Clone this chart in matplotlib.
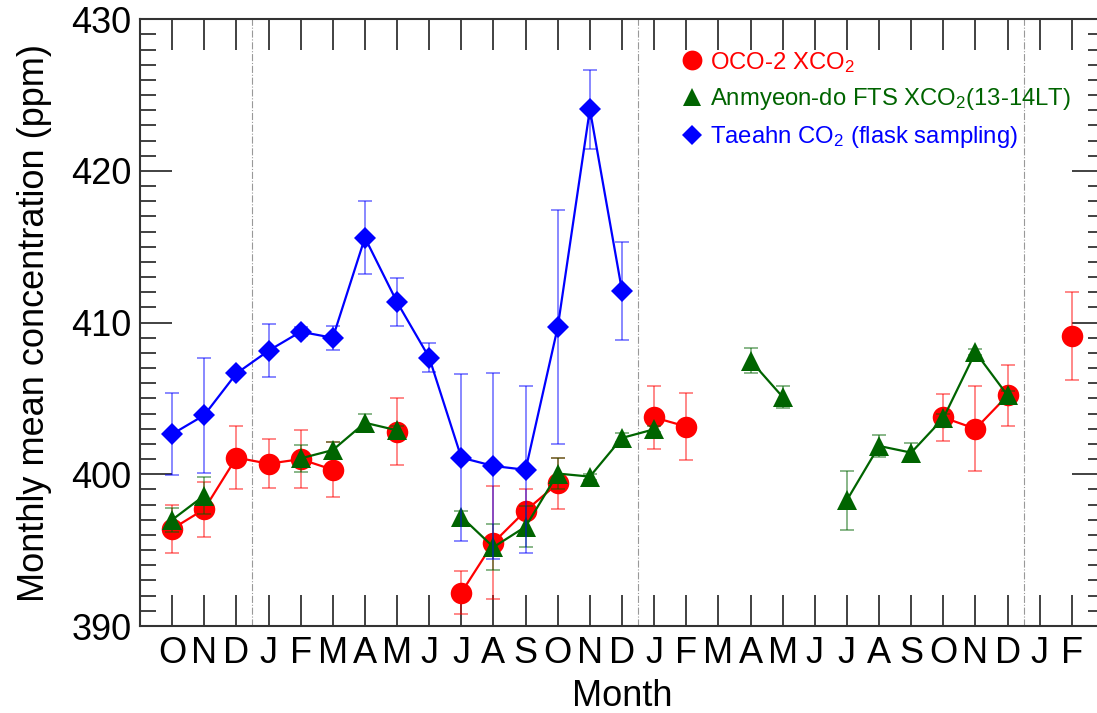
import numpy as np
import matplotlib
matplotlib.use("Agg")
import matplotlib.pyplot as plt
from matplotlib.lines import Line2D

nan = np.nan

months = ['O', 'N', 'D', 'J', 'F', 'M', 'A', 'M', 'J', 'J', 'A', 'S', 'O', 'N', 'D',
          'J', 'F', 'M', 'A', 'M', 'J', 'J', 'A', 'S', 'O', 'N', 'D', 'J', 'F']

oco2 = [396.4, 397.7, 401.1, 400.7, 401.0, 400.3, nan, 402.8, nan, 392.2, 395.5, 397.6,
        399.4, nan, nan, 403.75, 403.15, nan, nan, nan, nan, nan, nan, nan,
        403.75, 403.0, 405.2, nan, 409.1]
oco2_err = [1.6, 1.8, 2.1, 1.6, 1.9, 1.8, nan, 2.2, nan, 1.4, 3.7, 1.4,
            1.7, nan, nan, 2.1, 2.2, nan, nan, nan, nan, nan, nan, nan,
            1.55, 2.8, 2.0, nan, 2.9]

fts = [397.0, 398.6, nan, nan, 401.05, 401.6, 403.4, 402.9, nan, 397.2, 395.2, 396.55,
       400.05, 399.85, 402.4, 402.97, nan, nan, 407.5, 405.1, nan, 398.3, 401.87, 401.43,
       403.7, 408.05, 405.2, nan, nan]
fts_err = [0.8, 1.2, nan, nan, 0.9, 0.5, 0.6, 0.3, nan, 0.4, 1.5, 1.35,
           1.0, 0.2, 0.3, 0.2, nan, nan, 0.8, 0.7, nan, 1.95, 0.7, 0.65,
           0.3, 0.2, 0.3, nan, nan]

taean = [402.65, 403.9, 406.65, 408.15, 409.4, 409.0, 415.6, 411.35, 407.7, 401.1, 400.55, 400.3,
         409.7, 424.07, 412.1, nan, nan, nan, nan, nan, nan, nan, nan, nan,
         nan, nan, nan, nan, nan]
taean_err = [2.7, 3.8, 0.2, 1.75, 0.3, 0.8, 2.4, 1.6, 0.95, 5.5, 6.15, 5.5,
             7.7, 2.6, 3.25, nan, nan, nan, nan, nan, nan, nan, nan, nan,
             nan, nan, nan, nan, nan]

year_breaks = [2.5, 14.5, 26.5]

plt.rcParams['font.family'] = ['Liberation Sans', 'DejaVu Sans']
plt.rcParams['mathtext.fontset'] = 'custom'
plt.rcParams['mathtext.rm'] = 'Liberation Sans'
plt.rcParams['mathtext.it'] = 'Liberation Sans'

RED = '#ff0000'
GREEN = '#006400'
BLUE = '#0000ff'

fig = plt.figure(figsize=(10.97, 7.13), dpi=100)
ax = fig.add_axes([140 / 1097, (713 - 626) / 713, (1104 - 140) / 1097, (626 - 19.3) / 713])

x = np.arange(len(months))

for xb in year_breaks:
    ax.axvline(xb, color='#999999', lw=0.8, ls='-.', zorder=1)

series = [
    (oco2, oco2_err, RED, 'o', 15.5, 'OCO-2 XCO$_2$'),
    (fts, fts_err, GREEN, '^', 14.0, 'Anmyeon-do FTS XCO$_2$(13-14LT)'),
    (taean, taean_err, BLUE, 'D', 10.8, 'Taeahn CO$_2$ (flask sampling)'),
]

handles = []
labels = []
z = 2
for vals, errs, col, mk, ms, lab in series:
    ax.errorbar(x, vals, yerr=errs, fmt='none', ecolor=col, alpha=0.5,
                elinewidth=1.3, capsize=5, capthick=1.3, zorder=z)
    ax.plot(x, vals, color=col, lw=1.6, marker=mk, markersize=ms,
            markeredgewidth=0, zorder=z + 1)
    z += 2
    handles.append(Line2D([], [], ls='None', marker=mk, color=col,
                          markersize=ms * 0.92, markeredgewidth=0))
    labels.append(lab)

ax.set_xlim(-1, 29)
ax.set_ylim(390, 430)
ax.set_xticks(x)
ax.set_xticklabels(months)
ax.set_yticks([390, 400, 410, 420, 430])
ax.set_yticks(np.arange(390, 431, 1), minor=True)

ax.tick_params(axis='x', which='major', direction='in', length=22, width=1.3,
               top=True, bottom=True, labelsize=26, pad=7, color='#333333')
ax.tick_params(axis='y', which='major', direction='in', length=23, width=1.3,
               left=True, right=True, labelsize=26, pad=6, color='#333333')
ax.tick_params(axis='y', which='minor', direction='in', length=11.5, width=1.3,
               left=True, right=True, color='#333333')
ax.tick_params(axis='x', which='minor', bottom=False, top=False)

for sp in ax.spines.values():
    sp.set_linewidth(1.5)
    sp.set_color('#333333')

ax.set_xlabel('Month', fontsize=26, labelpad=6)
ax.set_ylabel('Monthly mean concentration (ppm)', fontsize=26, labelpad=14)

leg = ax.legend(handles, labels, loc='upper left', bbox_to_anchor=(0.563, 0.95),
                frameon=False, fontsize=17.2, handlelength=0.8, handletextpad=0.35,
                labelspacing=0.5, borderaxespad=0, borderpad=0)
for t, (_, _, col, _, _, _) in zip(leg.get_texts(), series):
    t.set_color(col)

fig.savefig('out.png', dpi=100)
